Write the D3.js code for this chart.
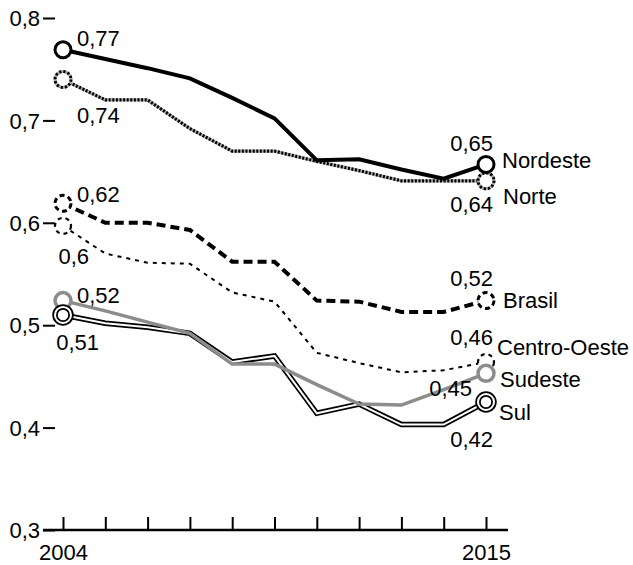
<!DOCTYPE html>
<html>
<head>
<meta charset="utf-8">
<script src="https://cdn.jsdelivr.net/npm/d3@7"></script>
<style>
  html, body { margin: 0; padding: 0; background: #fff; }
  svg { display: block; }
  text { font-family: "Liberation Sans", Arial, Helvetica, sans-serif; font-size: 22px; fill: #000; }
</style>
</head>
<body>
<svg id="chart" width="633" height="565"></svg>
<script>
// ---- data ----
const years = ["2004","2005","2006","2007","2008","2009","2011","2012","2013","2014","2015"];
const yTicks = [0.3, 0.4, 0.5, 0.6, 0.7, 0.8];
const xTickLabels = ["2004", "2015"];
const seriesNames = ["Norte", "Nordeste", "Brasil", "Centro-Oeste", "Sudeste", "Sul"];
const nordeste    = [0.769, 0.760, 0.751, 0.741, 0.722, 0.702, 0.661, 0.662, 0.652, 0.643, 0.657];
const norte       = [0.740, 0.720, 0.720, 0.692, 0.670, 0.670, 0.660, 0.651, 0.641, 0.641, 0.641];
const brasil      = [0.619, 0.600, 0.600, 0.593, 0.562, 0.562, 0.524, 0.523, 0.513, 0.513, 0.524];
const centroOeste = [0.597, 0.570, 0.561, 0.560, 0.532, 0.523, 0.473, 0.463, 0.454, 0.456, 0.464];
const sudeste     = [0.524, 0.514, 0.503, 0.492, 0.462, 0.462, 0.442, 0.423, 0.422, 0.437, 0.453];
const sul         = [0.510, 0.502, 0.498, 0.492, 0.464, 0.470, 0.414, 0.423, 0.403, 0.403, 0.425];
const startLabels = ["0,74", "0,77", "0,62", "0,6", "0,52", "0,51"];
const endLabels   = ["0,64", "0,65", "0,52", "0,46", "0,45", "0,42"];
const seriesValues = [norte, nordeste, brasil, centroOeste, sudeste, sul];

// ---- styles / layout ----
const styles = {
  "Norte":        { layers: [{stroke: "#aaa", w: 3.2}, {stroke: "#000", w: 3.2, dash: "2,1.6"}],
                    s: {dx: 14, dy: 44, anchor: "start"}, e: {dx: 7, dy: 31}, n: {dx: 17, dy: 23} },
  "Nordeste":     { layers: [{stroke: "#000", w: 4}],
                    s: {dx: 14, dy: -4, anchor: "start"}, e: {dx: 7, dy: -13}, n: {dx: 16, dy: 4} },
  "Brasil":       { layers: [{stroke: "#000", w: 4, dash: "9,5"}],
                    s: {dx: 14, dy: -1, anchor: "start"}, e: {dx: 7, dy: -15}, n: {dx: 17, dy: 7} },
  "Centro-Oeste": { layers: [{stroke: "#000", w: 2, dash: "4,5"}],
                    s: {dx: 26, dy: 38, anchor: "end"}, e: {dx: 7, dy: -17}, n: {dx: 11, dy: -7} },
  "Sudeste":      { layers: [{stroke: "#8c8c8c", w: 3.5}],
                    s: {dx: 14, dy: 2, anchor: "start"}, e: {dx: -14, dy: 23}, n: {dx: 14, dy: 14} },
  "Sul":          { layers: [{stroke: "#000", w: 5.5}, {stroke: "#fff", w: 2}],
                    s: {dx: 36, dy: 35, anchor: "end"}, e: {dx: 7, dy: 45}, n: {dx: 13, dy: 18} }
};

const svg = d3.select("#chart");
const x = d3.scalePoint().domain(years).range([63, 486]);
const y = d3.scaleLinear().domain([0.3, 0.8]).range([530, 18]);

// y axis (ticks only)
const yAxis = svg.append("g").attr("transform", "translate(55,0)")
  .call(d3.axisLeft(y).tickValues(yTicks).tickSize(12).tickPadding(3)
        .tickFormat(d => d3.format(".1f")(d).replace(".", ",")));
yAxis.select(".domain").remove();
yAxis.selectAll(".tick line").attr("stroke", "#000").attr("stroke-width", 2);
yAxis.selectAll(".tick text").attr("font-size", 22).attr("font-family", null).attr("dy", "0.35em");

// x axis
const xAxis = svg.append("g").attr("transform", "translate(0,530)")
  .call(d3.axisBottom(x).tickSize(-13).tickSizeOuter(0).tickPadding(14)
        .tickFormat(d => xTickLabels.includes(d) ? d : ""));
xAxis.select(".domain").attr("d", "M43,0H508").attr("stroke", "#000").attr("stroke-width", 2.5);
xAxis.selectAll(".tick line").attr("stroke", "#000").attr("stroke-width", 2);
xAxis.selectAll(".tick text").attr("font-size", 22).attr("font-family", null).attr("dy", "0.71em");

const line = d3.line().x((d, i) => x(years[i])).y(d => y(d));

// lines
const lineOrder = ["Centro-Oeste", "Brasil", "Norte", "Nordeste", "Sul", "Sudeste"];
lineOrder.forEach(name => {
  const vals = seriesValues[seriesNames.indexOf(name)];
  styles[name].layers.forEach(L => {
    svg.append("path").datum(vals)
      .attr("d", line).attr("fill", "none")
      .attr("stroke", L.stroke).attr("stroke-width", L.w)
      .attr("stroke-dasharray", L.dash || null)
      .attr("stroke-linejoin", "miter");
  });
});

// end circles
const circleStyles = {
  "Norte":        [{stroke: "#aaa", w: 3}, {stroke: "#000", w: 3, dash: "2.2,2"}],
  "Nordeste":     [{stroke: "#000", w: 3}],
  "Brasil":       [{stroke: "#000", w: 3, dash: "5,3.5"}],
  "Centro-Oeste": [{stroke: "#000", w: 2.2, dash: "4,4"}],
  "Sudeste":      [{stroke: "#8c8c8c", w: 3.5}],
  "Sul":          [{stroke: "#000", w: 5.5}, {stroke: "#fff", w: 2}]
};
const circleOrder = ["Norte", "Nordeste", "Centro-Oeste", "Brasil", "Sudeste", "Sul"];
circleOrder.forEach(name => {
  const vals = seriesValues[seriesNames.indexOf(name)];
  [0, vals.length - 1].forEach(i => {
    circleStyles[name].forEach((L, k) => {
      svg.append("circle")
        .attr("cx", x(years[i])).attr("cy", y(vals[i]))
        .attr("r", 8)
        .attr("fill", k === 0 ? "#fff" : "none")
        .attr("stroke", L.stroke).attr("stroke-width", L.w)
        .attr("stroke-dasharray", L.dash || null);
    });
  });
});

// labels
seriesNames.forEach((name, si) => {
  const vals = seriesValues[si];
  const st = styles[name];
  const last = vals.length - 1;
  svg.append("text")
    .attr("x", x(years[0]) + st.s.dx).attr("y", y(vals[0]) + st.s.dy)
    .attr("text-anchor", st.s.anchor).text(startLabels[si]);
  svg.append("text")
    .attr("x", x(years[last]) + st.e.dx).attr("y", y(vals[last]) + st.e.dy)
    .attr("text-anchor", "end").text(endLabels[si]);
  svg.append("text")
    .attr("x", x(years[last]) + st.n.dx).attr("y", y(vals[last]) + st.n.dy)
    .attr("text-anchor", "start").text(name);
});
</script>
</body>
</html>
